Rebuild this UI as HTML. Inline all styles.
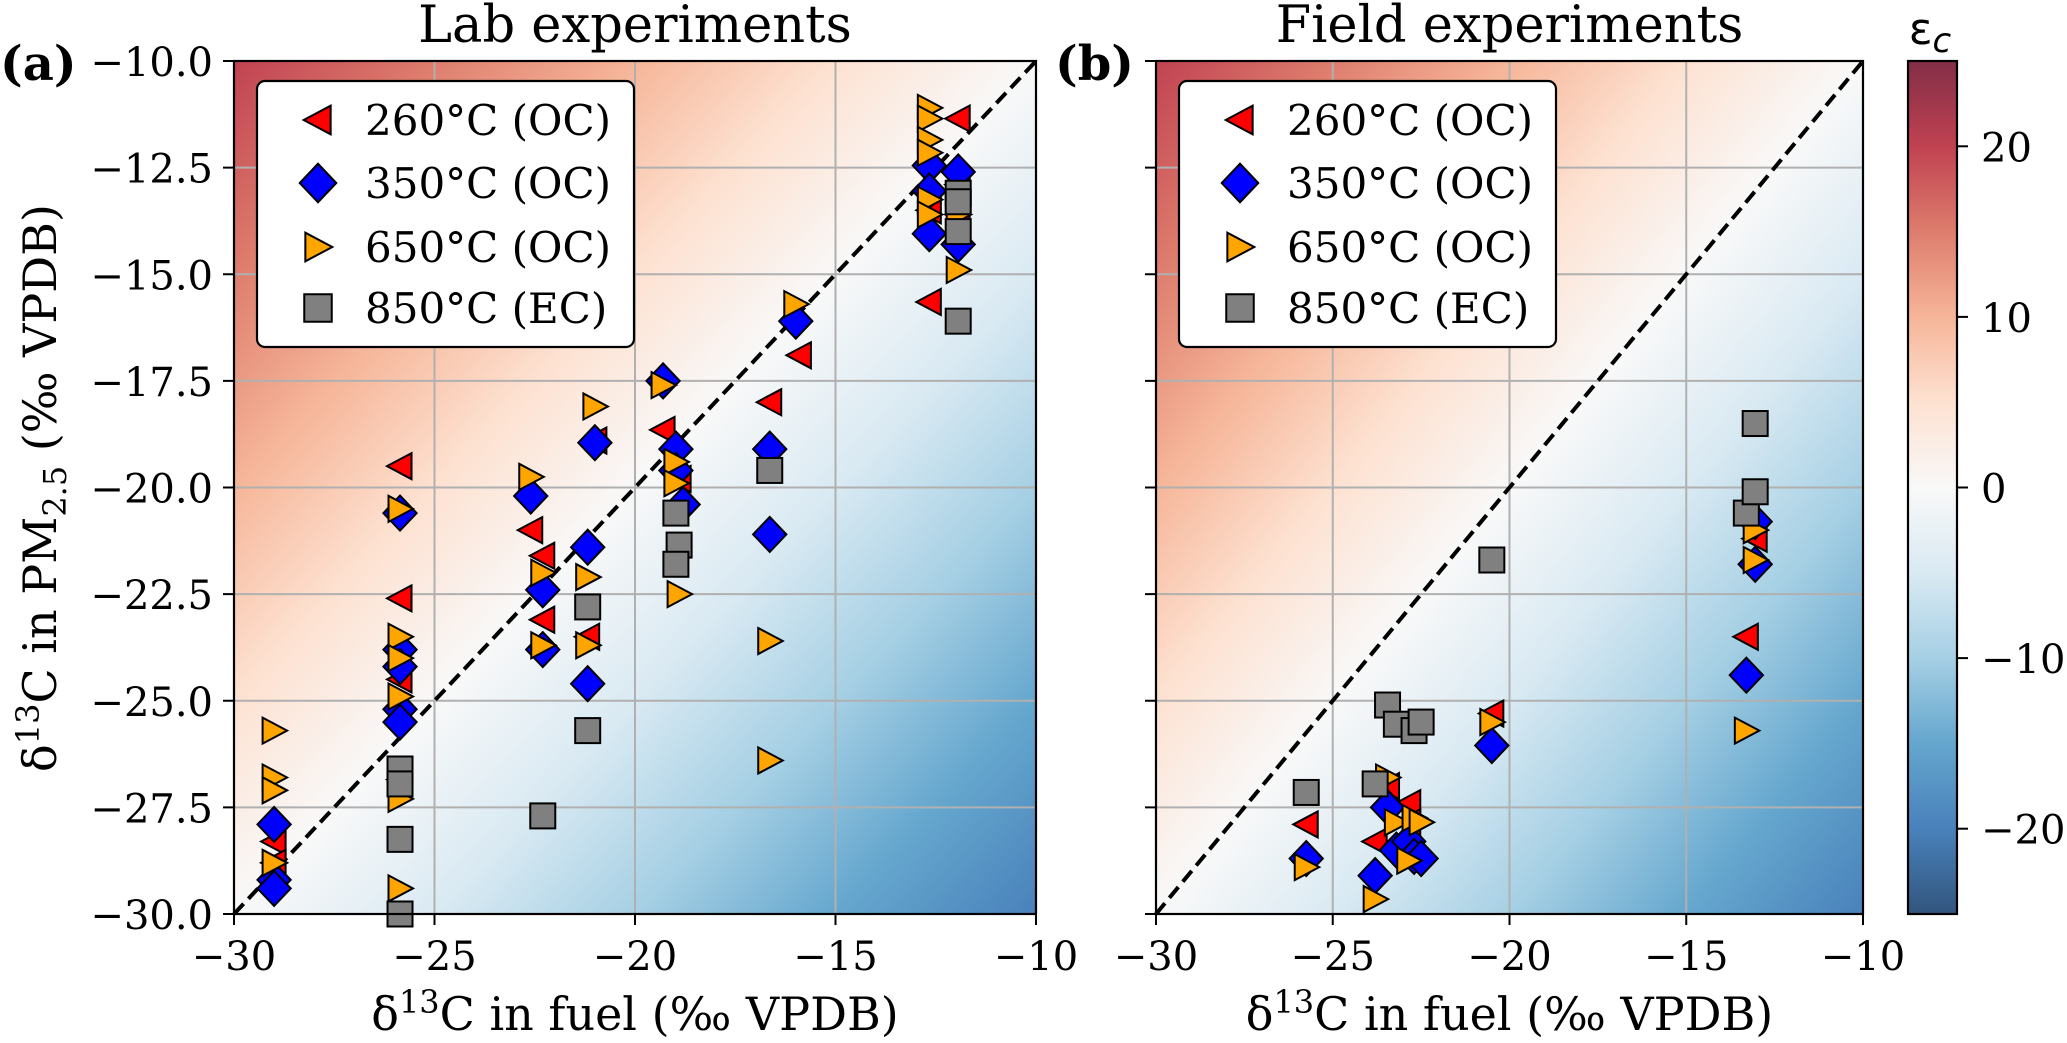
<!DOCTYPE html>
<html><head><meta charset="utf-8">
<style>
html,body{margin:0;padding:0;background:#fff;}
svg{display:block;font-family:"DejaVu Serif","Liberation Serif",serif;}
</style></head>
<body>
<svg id="fig" xmlns="http://www.w3.org/2000/svg" width="2067" height="1043" viewBox="0 0 2067 1043">
<defs id="defs"></defs>
</svg>
<script>
// ---- data ----
const xTicks = [-30, -25, -20, -15, -10];
const yTicks = [-10, -12.5, -15, -17.5, -20, -22.5, -25, -27.5, -30];
const yTickLabels = ["−10.0","−12.5","−15.0","−17.5","−20.0","−22.5","−25.0","−27.5","−30.0"];
const xTickLabels = ["−30","−25","−20","−15","−10"];
const cbTicks = [20, 10, 0, -10, -20];
const cbTickLabels = ["20","10","0","−10","−20"];
const seriesNames = ["260°C (OC)","350°C (OC)","650°C (OC)","850°C (EC)"];

// panel (a) lab
const labT260x = [-29,-29,-25.86,-25.86,-25.86,-25.86,-22.6,-22.3,-22.3,-21.0,-21.18,-19.3,-18.9,-16.64,-15.9,-12.66,-12.66,-11.94,-11.94,-11.94];
const labT260y = [-28.3,-28.8,-19.5,-22.6,-24.5,-26.85,-21.0,-21.6,-23.1,-18.9,-23.5,-18.65,-19.8,-18.0,-16.9,-13.5,-15.65,-11.35,-12.9,-13.6];
const labT350x = [-29,-29,-29,-25.86,-25.86,-25.86,-25.86,-25.86,-22.6,-22.3,-22.3,-21.0,-21.18,-21.18,-19.3,-18.98,-18.98,-18.8,-16.64,-16.64,-15.99,-12.66,-12.66,-12.66,-11.94,-11.94];
const labT350y = [-27.9,-29.2,-29.4,-20.6,-23.8,-24.2,-25.2,-25.5,-20.2,-22.4,-23.8,-18.95,-21.4,-24.6,-17.5,-19.1,-19.6,-20.4,-19.1,-21.1,-16.1,-12.45,-13.05,-14.05,-12.6,-14.3];
const labT650x = [-29,-29,-29,-29,-25.86,-25.86,-25.86,-25.86,-25.86,-25.86,-22.6,-22.3,-22.3,-21.0,-21.18,-21.18,-19.3,-18.98,-18.98,-18.9,-16.64,-16.64,-15.99,-12.66,-12.66,-12.66,-12.66,-12.66,-12.66,-11.94,-11.94];
const labT650y = [-25.7,-26.8,-27.1,-28.8,-20.5,-23.5,-24.0,-24.9,-27.3,-29.4,-19.75,-22.0,-23.7,-18.1,-22.1,-23.7,-17.6,-19.4,-19.9,-22.5,-23.6,-26.4,-15.7,-11.1,-11.35,-11.85,-12.15,-13.25,-13.6,-13.6,-14.9];
const labT850x = [-25.86,-25.86,-25.86,-25.86,-22.3,-21.18,-21.18,-18.98,-18.9,-18.98,-16.64,-11.94,-11.94,-11.94,-11.94];
const labT850y = [-26.6,-26.95,-28.25,-30.0,-27.7,-22.8,-25.7,-20.6,-21.35,-21.8,-19.6,-13.1,-13.3,-14.0,-16.1];

// panel (b) field
const fldT260x = [-25.75,-23.8,-23.45,-22.85,-22.85,-20.5,-13.3,-13.05];
const fldT260y = [-27.9,-28.3,-27.0,-27.4,-27.85,-25.3,-23.5,-21.2];
const fldT350x = [-25.75,-23.8,-23.45,-23.2,-22.85,-22.7,-22.5,-20.5,-13.3,-13.05,-13.05];
const fldT350y = [-28.7,-29.1,-27.5,-28.5,-28.3,-28.65,-28.7,-26.05,-24.4,-20.8,-21.8];
const fldT650x = [-25.75,-23.8,-23.45,-23.2,-22.85,-22.7,-22.5,-20.5,-13.3,-13.05,-13.05];
const fldT650y = [-28.9,-29.65,-26.8,-27.85,-28.75,-27.75,-27.85,-25.5,-25.7,-21.0,-21.7];
const fldT850x = [-25.75,-23.8,-23.45,-23.2,-22.7,-22.5,-20.5,-13.3,-13.05,-13.05];
const fldT850y = [-27.15,-26.95,-25.1,-25.55,-25.7,-25.5,-21.7,-20.6,-18.5,-20.1];

// ---- layout ----
const NS = "http://www.w3.org/2000/svg";
const svg = document.getElementById('fig');
const defs = document.getElementById('defs');
const T = 61, B = 914;
const panels = [
  {L:234, R:1036, key:'a', title:'Lab experiments', label:'(a)', labelX:0, showY:true,
   series:[[labT260x,labT260y],[labT350x,labT350y],[labT650x,labT650y],[labT850x,labT850y]]},
  {L:1156, R:1863, key:'b', title:'Field experiments', label:'(b)', labelX:1055, showY:false,
   series:[[fldT260x,fldT260y],[fldT350x,fldT350y],[fldT650x,fldT650y],[fldT850x,fldT850y]]}
];
const rdbu = ["#67001f","#b2182b","#d6604d","#f4a582","#fddbc7","#f7f7f7","#d1e5f0","#92c5de","#4393c3","#2166ac","#053061"];
const cmapAlpha = 0.82;
const colors = ["#ff0000","#0000ff","#ffa500","#808080"];

function el(tag, attrs, parent){
  const e = document.createElementNS(NS, tag);
  for (const k in attrs) e.setAttribute(k, attrs[k]);
  (parent||svg).appendChild(e);
  return e;
}
function txt(parent, x, y, s, size, anchor, extra){
  const t = el('text', Object.assign({x:x, y:y, 'font-size':size, 'text-anchor':anchor||'start', fill:'#000'}, extra||{}), parent);
  t.textContent = s;
  return t;
}
function marker(g, k, cx, cy, sc){
  sc = sc || 1;
  let m;
  const st = {fill:colors[k], stroke:'#000', 'stroke-width':2, 'stroke-linejoin':'miter'};
  const a = 13*sc, b = 11.5*sc, d = 17.5*sc, s = 12.5*sc;
  if (k===0){
    m = el('polygon', Object.assign({points:`${cx-a},${cy} ${cx+b},${cy-a} ${cx+b},${cy+a}`}, st), g);
  } else if (k===1){
    m = el('polygon', Object.assign({points:`${cx},${cy-d} ${cx+d*0.95},${cy} ${cx},${cy+d} ${cx-d*0.95},${cy}`}, st), g);
  } else if (k===2){
    m = el('polygon', Object.assign({points:`${cx+a},${cy} ${cx-b},${cy-a} ${cx-b},${cy+a}`}, st), g);
  } else {
    m = el('rect', Object.assign({x:cx-s, y:cy-s, width:2*s, height:2*s}, st), g);
  }
  return m;
}

panels.forEach((p, pi) => {
  const sx = v => p.L + (v + 30) / 20 * (p.R - p.L);
  const sy = v => T + (-10 - v) / 20 * (B - T);
  const pxU = (p.R - p.L) / 20, pyU = (B - T) / 20;
  const g = el('g', {});
  
  

  const gx = 1/pxU, gy = 1/pyU, gm = Math.hypot(gx, gy);
  const vx = gx/gm, vy = gy/gm;
  const eps0 = 20;
  const d0 = (eps0 - 25) / gm, d1 = (eps0 + 25) / gm;
  const lg = el('linearGradient', {id:'bg'+p.key, gradientUnits:'userSpaceOnUse',
    x1:p.L + vx*d0, y1:T + vy*d0, x2:p.L + vx*d1, y2:T + vy*d1}, defs);
  rdbu.forEach((c, i) => el('stop', {offset:i/(rdbu.length-1), 'stop-color':c, 'stop-opacity':cmapAlpha}, lg));
  const bg = el('rect', {x:p.L, y:T, width:p.R-p.L, height:B-T, fill:'url(#bg'+p.key+')'}, g);
  
  

  xTicks.forEach(v => { const l = el('line', {x1:sx(v), x2:sx(v), y1:T, y2:B, stroke:'#b0b0b0', 'stroke-width':2}, g);
      });
  yTicks.forEach(v => { const l = el('line', {x1:p.L, x2:p.R, y1:sy(v), y2:sy(v), stroke:'#b0b0b0', 'stroke-width':2}, g);
      });

  const one = el('line', {x1:sx(-30), y1:sy(-30), x2:sx(-10), y2:sy(-10), stroke:'#000', 'stroke-width':4, 'stroke-dasharray':'14,7'}, g);
  
  

  p.series.forEach((s, k) => {
    const sg = el('g', {}, g);
    
    
    s[0].forEach((xv, i) => {
      const m = marker(sg, k, sx(xv), sy(s[1][i]));
      
      
    });
  });

  const fr = el('rect', {x:p.L, y:T, width:p.R-p.L, height:B-T, fill:'none', stroke:'#000', 'stroke-width':2.2}, g);
  
  

  xTicks.forEach((v, i) => {
    el('line', {x1:sx(v), x2:sx(v), y1:B, y2:B+11, stroke:'#000', 'stroke-width':2}, g);
    const t = txt(g, sx(v), 970, xTickLabels[i], 40, 'middle');
    
    
  });
  yTicks.forEach((v, i) => {
    el('line', {x1:p.L-11, x2:p.L, y1:sy(v), y2:sy(v), stroke:'#000', 'stroke-width':2}, g);
    if (p.showY){
      const t = txt(g, 213, sy(v)+15, yTickLabels[i], 40, 'end');
      
      
    }
  });

  const tt = txt(g, (p.L+p.R)/2, 42, p.title, 51, 'middle');
  
  
  const pl = txt(g, p.labelX, 80, p.label, 48, 'start', {'font-weight':'bold'});
  
  

  const xl = el('text', {x:(p.L+p.R)/2, y:1030, 'font-size':46, 'text-anchor':'middle'}, g);
  
  
  xl.innerHTML = 'δ<tspan dy="-17" font-size="32">13</tspan><tspan dy="17">C in fuel (‰ VPDB)</tspan>';

  const off = p.L - 234;
  const lgG = el('g', {}, g);
  
  
  el('rect', {x:257+off, y:81, width:377, height:266, rx:8, fill:'#fff', stroke:'#000', 'stroke-width':2.2}, lgG);
  const rows = [120, 183, 247, 308];
  rows.forEach((ry, k) => {
    const m = marker(lgG, k, 318+off, ry, 1.1);
    
    
    const t = txt(lgG, 365+off, ry+15, seriesNames[k], 42, 'start');
    
    
  });
});

const yl = el('text', {x:0, y:0, 'font-size':46, 'text-anchor':'middle', transform:'translate(56,488) rotate(-90)'});


yl.innerHTML = 'δ<tspan dy="-17" font-size="32">13</tspan><tspan dy="17">C in PM</tspan><tspan dy="10" font-size="32">2.5</tspan><tspan dy="-10"> (‰ VPDB)</tspan>';

const CL = 1908, CR = 1957;
const cy = v => T + (25 - v) / 50 * (B - T);
const cg = el('linearGradient', {id:'cbg', x1:0, y1:0, x2:0, y2:1});
defs.appendChild(cg);
rdbu.forEach((c, i) => el('stop', {offset:i/(rdbu.length-1), 'stop-color':c, 'stop-opacity':cmapAlpha}, cg));
const cb = el('g', {});


el('rect', {x:CL, y:T, width:CR-CL, height:B-T, fill:'url(#cbg)', stroke:'#000', 'stroke-width':2.2}, cb);
cbTicks.forEach((v, i) => {
  el('line', {x1:CR, x2:CR+11, y1:cy(v), y2:cy(v), stroke:'#000', 'stroke-width':2}, cb);
  const t = txt(cb, 1981, cy(v)+15, cbTickLabels[i], 40, 'start');
  
  
});
const ct = el('text', {x:1930, y:44, 'font-size':44, 'text-anchor':'middle', 'font-family':'"DejaVu Sans",sans-serif'}, cb);


ct.innerHTML = 'ε<tspan dy="8" font-size="34" font-style="italic">c</tspan>';
</script>
</body></html>
